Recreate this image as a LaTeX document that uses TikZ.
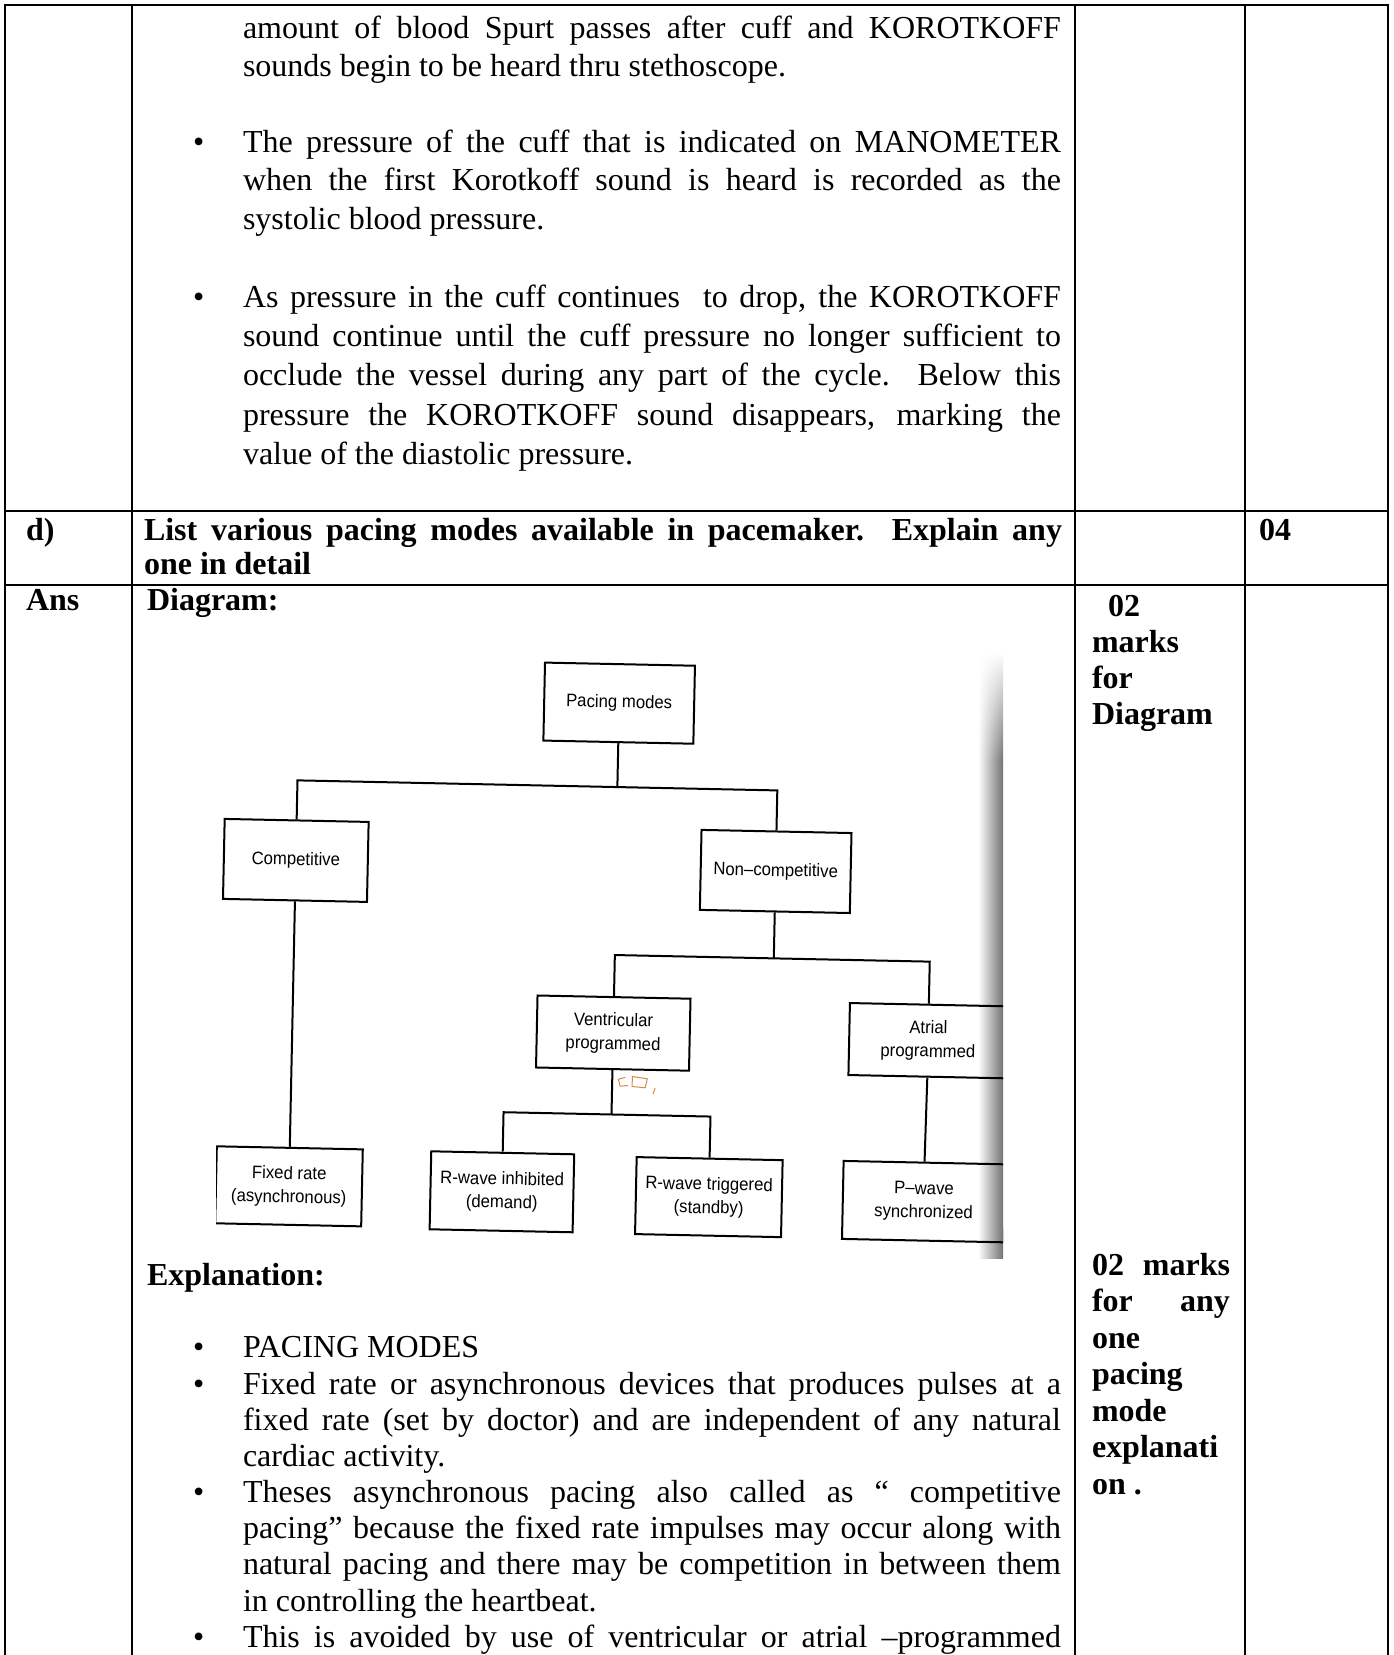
\documentclass[tikz,border=0pt]{standalone}
\usepackage{fontspec}
\usetikzlibrary{shadings}
\setmainfont{Liberation Serif}
\newfontfamily\diafont[FakeStretch=0.93]{Liberation Sans}
\newcommand\jline[2]{\makebox[#1pt][s]{#2}}
\begin{document}
\begin{tikzpicture}[x=1pt,y=-1pt,
  tbl/.style={line width=2.2pt},
  txt/.style={anchor=base west, inner sep=0pt, outer sep=0pt, font=\fontsize{32}{38}\selectfont},
  btxt/.style={anchor=base west, inner sep=0pt, outer sep=0pt, font=\fontsize{32}{38}\selectfont\bfseries},
  dbox/.style={draw, line width=2pt, inner sep=0pt, align=center, transform shape, font=\diafont\fontsize{18}{23.5}\selectfont},
  conn/.style={line width=2pt},
  scrib/.style={draw={rgb,255:red,214;green,140;blue,70}, line width=1pt}
]
\useasboundingbox (0,0) rectangle (1393,1655);
\fill[white] (0,0) rectangle (1393,1655);

% ---------- table grid ----------
\draw[tbl] (5,5) -- (1388,5);
\draw[tbl] (5,511) -- (1388,511);
\draw[tbl] (5,585) -- (1388,585);
\foreach \xx in {5,132,1075,1245,1388} \draw[tbl] (\xx,4) -- (\xx,1655);

% ---------- top block ----------
\node[txt] (t1) at (243,38) {\jline{818}{amount of blood Spurt passes after cuff and KOROTKOFF}};
\node[txt] (t2) at (243,76.5) {sounds begin to be heard thru stethoscope.};
\node[txt] (b1) at (193,152) {\textbullet};
\node[txt] (t3) at (243,152) {\jline{818}{The pressure of the cuff that is indicated on MANOMETER}};
\node[txt] (t4) at (243,190.5) {\jline{818}{when the first Korotkoff sound is heard is recorded as the}};
\node[txt] (t5) at (243,229) {systolic blood pressure.};
\node[txt] (b2) at (193,307) {\textbullet};
\node[txt] (t6) at (243,307) {\jline{818}{As pressure in the cuff continues \ to drop, the KOROTKOFF}};
\node[txt] (t7) at (243,346) {\jline{818}{sound continue until the cuff pressure no longer sufficient to}};
\node[txt] (t8) at (243,385.5) {\jline{818}{occlude the vessel during any part of the cycle. Below this}};
\node[txt] (t9) at (243,425) {\jline{818}{pressure the KOROTKOFF sound disappears, marking the}};
\node[txt] (t10) at (243,464) {value of the diastolic pressure.};

% ---------- question row ----------
\node[btxt] (qd) at (26,540) {d)};
\node[btxt] (q1) at (144,540) {\jline{918}{List various pacing modes available in pacemaker. Explain any}};
\node[btxt] (q2) at (144,574) {one in detail};
\node[btxt] (q3) at (1259,540) {04};

% ---------- answer row ----------
\node[btxt] (ans) at (26,610) {Ans};
\node[btxt] (dg) at (147,610) {Diagram:};
\node[btxt] (m1) at (1108,616) {02};
\node[btxt] (m2) at (1092,652) {marks};
\node[btxt] (m3) at (1092,688) {for};
\node[btxt] (m4) at (1092,724) {Diagram};

% ---------- diagram (scanned figure) ----------
\begin{scope}
\clip (216,644) rectangle (1003,1258);
\shade[upper left=white, lower left=white, upper right=white, lower right=black!55] (978,652) rectangle (1003,760);
\shade[left color=white, right color=black!55] (978,759.5) rectangle (1003,1258);
\begin{scope}[rotate around={-1.2:(610,950)}]
\node[dbox, minimum width=150pt, minimum height=78pt] (pm) at (614,703) {Pacing modes};
\node[dbox, minimum width=144pt, minimum height=80pt] (comp) at (294,867) {Competitive};
\node[dbox, minimum width=150pt, minimum height=80pt] (nc) at (774,868) {Non–competitive};
\node[dbox, minimum width=153pt, minimum height=72pt] (vent) at (615,1033) {Ventricular\\programmed};
\node[dbox, minimum width=158pt, minimum height=72pt] (atr) at (930,1034) {Atrial\\programmed};
\node[dbox, minimum width=146pt, minimum height=77pt] (fix) at (294,1193) {Fixed rate\\(asynchronous)};
\node[dbox, minimum width=143pt, minimum height=78pt] (rinh) at (507,1194) {R-wave inhibited\\(demand)};
\node[dbox, minimum width=146pt, minimum height=77pt] (rtrig) at (714,1195) {R-wave triggered\\(standby)};
\node[dbox, minimum width=162pt, minimum height=78pt] (pw) at (929,1195) {P–wave\\synchronized};
\coordinate (j1) at (614,787);
\coordinate (j1l) at (294,787);
\coordinate (j1r) at (774,787);
\coordinate (j2) at (774,955);
\coordinate (j2l) at (615,955);
\coordinate (j2r) at (930,955);
\coordinate (j3) at (615,1114.5);
\coordinate (j3l) at (507,1114.5);
\coordinate (j3r) at (714,1114.5);
\draw[conn] (pm.south) -- (j1);
\draw[conn] (comp.north) -- (j1l) -- (j1r) -- (nc.north);
\draw[conn] (comp.south) -- (fix.north);
\draw[conn] (nc.south) -- (j2);
\draw[conn] (vent.north) -- (j2l) -- (j2r) -- (atr.north);
\draw[conn] (vent.south) -- (j3);
\draw[conn] (rinh.north) -- (j3l) -- (j3r) -- (rtrig.north);
\draw[conn] (atr.south) -- (pw.north);
\draw[scrib] (628,1077) -- (621,1079) -- (623,1086) -- (631,1085);
\draw[scrib] (635,1076) -- (650,1078) -- (648,1087) -- (635,1086) -- cycle;
\draw[scrib] (658,1087) -- (656,1093);
\end{scope}
\end{scope}

% ---------- explanation ----------
\node[btxt] (ex) at (147,1285) {Explanation:};
\node[txt] (b3) at (193,1357) {\textbullet};
\node[txt] (e1) at (243,1357) {PACING MODES};
\node[txt] (b4) at (193,1394) {\textbullet};
\node[txt] (e2) at (243,1394) {\jline{818}{Fixed rate or asynchronous devices that produces pulses at a}};
\node[txt] (e3) at (243,1430) {\jline{818}{fixed rate (set by doctor) and are independent of any natural}};
\node[txt] (e4) at (243,1466.5) {cardiac activity.};
\node[txt] (b5) at (193,1502.5) {\textbullet};
\node[txt] (e5) at (243,1502.5) {\jline{818}{Theses asynchronous pacing also called as “ competitive}};
\node[txt] (e6) at (243,1538.5) {\jline{818}{pacing” because the fixed rate impulses may occur along with}};
\node[txt] (e7) at (243,1574.5) {\jline{818}{natural pacing and there may be competition in between them}};
\node[txt] (e8) at (243,1611) {in controlling the heartbeat.};
\node[txt] (b6) at (193,1647) {\textbullet};
\node[txt] (e9) at (243,1647) {\jline{818}{This is avoided by use of ventricular or atrial –programmed}};

\node[btxt] (n1) at (1092,1275) {\jline{138}{02 marks}};
\node[btxt] (n2) at (1092,1311.5) {\jline{138}{for any}};
\node[btxt] (n3) at (1092,1348) {one};
\node[btxt] (n4) at (1092,1384.5) {pacing};
\node[btxt] (n5) at (1092,1421) {mode};
\node[btxt] (n6) at (1092,1457.5) {explanati};
\node[btxt] (n7) at (1092,1494) {on .};
\end{tikzpicture}
\end{document}
